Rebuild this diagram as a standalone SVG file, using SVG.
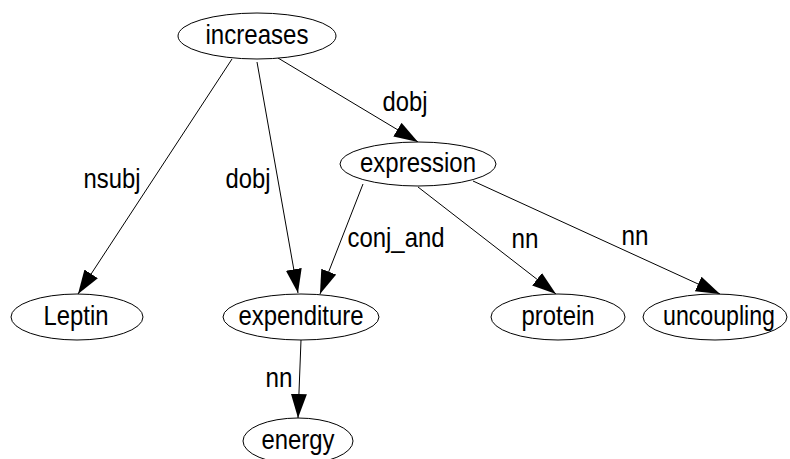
<svg xmlns="http://www.w3.org/2000/svg" width="790" height="459" viewBox="0 0 790 459">
  <style>
    .node ellipse { fill: #ffffff; stroke: #000000; stroke-width: 1; }
    .node text, .label { font-family: "Liberation Sans", Arial, sans-serif; font-size: 28px; fill: #000000; text-anchor: middle; }
    .edge { stroke: #000000; stroke-width: 1; fill: none; marker-end: url(#arrow); }
  </style>
  <defs>
    <marker id="arrow" markerUnits="userSpaceOnUse" markerWidth="25" markerHeight="18" refX="24" refY="8" orient="auto">
      <path d="M0,0 L24,8 L0,16 Z" fill="#000000"/>
    </marker>
  </defs>
  <rect width="790" height="459" fill="#ffffff"/>

  <g id="connectors">
    <line class="edge" x1="232" y1="59" x2="78" y2="294"/>
    <line class="edge" x1="257" y1="62" x2="298" y2="293"/>
    <line class="edge" x1="278" y1="58" x2="418" y2="142"/>
    <line class="edge" x1="363" y1="184" x2="320" y2="294"/>
    <line class="edge" x1="418" y1="187" x2="556" y2="294"/>
    <line class="edge" x1="473" y1="181" x2="720" y2="294"/>
    <line class="edge" x1="301" y1="340" x2="298" y2="418"/>
    <text class="label" x="112" y="188" textLength="57" lengthAdjust="spacingAndGlyphs">nsubj</text>
    <text class="label" x="248" y="188" textLength="45" lengthAdjust="spacingAndGlyphs">dobj</text>
    <text class="label" x="405" y="111" textLength="45" lengthAdjust="spacingAndGlyphs">dobj</text>
    <text class="label" x="396" y="247" textLength="97" lengthAdjust="spacingAndGlyphs">conj_and</text>
    <text class="label" x="525" y="248" textLength="27" lengthAdjust="spacingAndGlyphs">nn</text>
    <text class="label" x="635" y="245" textLength="27" lengthAdjust="spacingAndGlyphs">nn</text>
    <text class="label" x="279" y="387" textLength="27" lengthAdjust="spacingAndGlyphs">nn</text>
  </g>

  <g id="increases" class="node">
    <ellipse cx="257" cy="36" rx="79" ry="23"/>
    <text x="257" y="44" textLength="103" lengthAdjust="spacingAndGlyphs">increases</text>
  </g>
  <g id="expression" class="node">
    <ellipse cx="418" cy="164" rx="78" ry="22"/>
    <text x="418" y="172" textLength="116" lengthAdjust="spacingAndGlyphs">expression</text>
  </g>
  <g id="Leptin" class="node">
    <ellipse cx="77" cy="317" rx="66" ry="23"/>
    <text x="76" y="325" textLength="65" lengthAdjust="spacingAndGlyphs">Leptin</text>
  </g>
  <g id="expenditure" class="node">
    <ellipse cx="301" cy="317" rx="78" ry="23"/>
    <text x="301" y="325" textLength="125" lengthAdjust="spacingAndGlyphs">expenditure</text>
  </g>
  <g id="protein" class="node">
    <ellipse cx="558" cy="317" rx="67" ry="23"/>
    <text x="558" y="325" textLength="73" lengthAdjust="spacingAndGlyphs">protein</text>
  </g>
  <g id="uncoupling" class="node">
    <ellipse cx="715" cy="317" rx="72" ry="23"/>
    <text x="719" y="325" textLength="112" lengthAdjust="spacingAndGlyphs">uncoupling</text>
  </g>
  <g id="energy" class="node">
    <ellipse cx="298" cy="441" rx="55" ry="23"/>
    <text x="298" y="449" textLength="73" lengthAdjust="spacingAndGlyphs">energy</text>
  </g>
</svg>
